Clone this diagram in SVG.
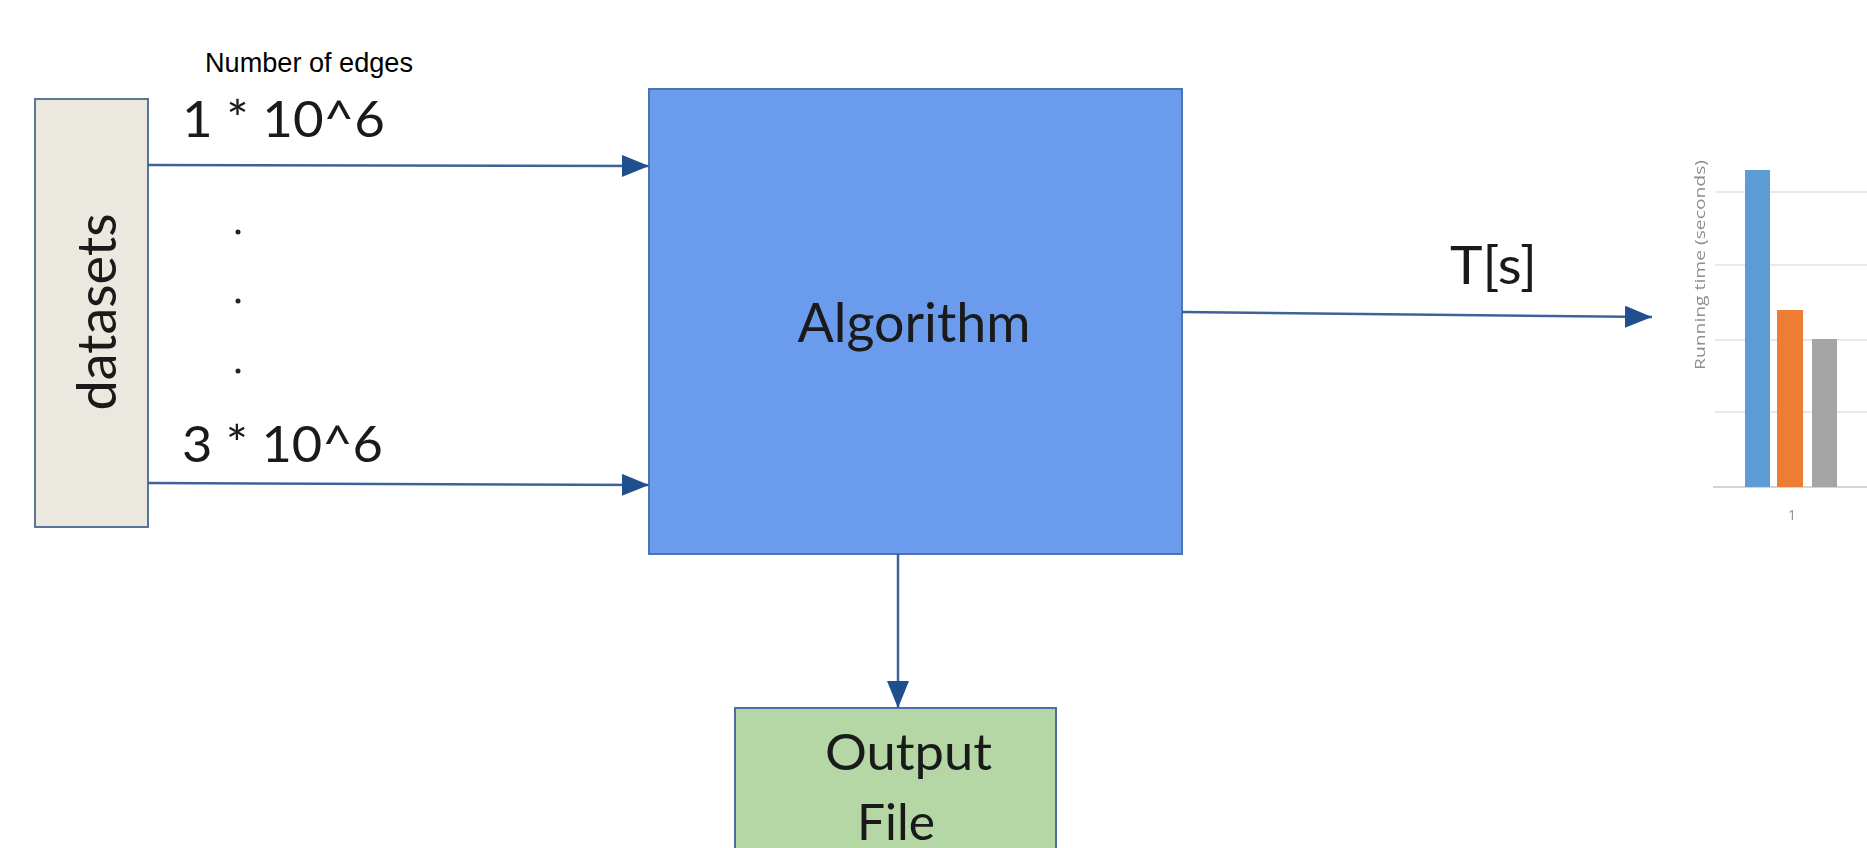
<svg xmlns="http://www.w3.org/2000/svg" width="1867" height="848" viewBox="0 0 1867 848">
  <defs>
    <style>
      .lbl { font-family: Lato, "Open Sans", "Liberation Sans", sans-serif; fill: #1a1a1a; }
      .note { font-family: "Liberation Sans", Arial, sans-serif; fill: #000; }
      .conn { stroke: #3d6299; stroke-width: 2.5; fill: none; }
      .grid { stroke: #e2e2e2; stroke-width: 1.5; }
      .axis { font-family: "Open Sans", "Liberation Sans", sans-serif; fill: #8e8e8e; }
    </style>
    <marker id="head" markerUnits="userSpaceOnUse" markerWidth="28" markerHeight="24" refX="27" refY="11" orient="auto">
      <path d="M0,0 L27,11 L0,22 Z" fill="#1f4f8e"/>
    </marker>
    <filter id="soft" x="-5%" y="-5%" width="110%" height="110%">
      <feGaussianBlur stdDeviation="0.7"/>
    </filter>
  </defs>

  <rect x="0" y="0" width="1867" height="848" fill="#ffffff"/>

  <!-- caption above the input arrows -->
  <text class="note" x="205" y="72" font-size="28" textLength="208" lengthAdjust="spacingAndGlyphs">Number of edges</text>

  <!-- input datasets -->
  <g id="datasets">
    <rect x="35" y="99" width="113" height="428" fill="#ebe8df" stroke="#5b7599" stroke-width="2"/>
    <text class="lbl" transform="translate(116,312) rotate(-90)" text-anchor="middle" font-size="54" textLength="197" lengthAdjust="spacingAndGlyphs">datasets</text>
  </g>

  <!-- algorithm under test -->
  <g id="algorithm">
    <rect x="649" y="89" width="533" height="465" fill="#6a9bec" stroke="#4d74b2" stroke-width="2"/>
    <text class="lbl" x="914" y="342" text-anchor="middle" font-size="54" textLength="233" lengthAdjust="spacingAndGlyphs">Algorithm</text>
  </g>

  <!-- output file -->
  <g id="output-file">
    <rect x="735" y="708" width="321" height="160" fill="#b5d7a6" stroke="#4d6f9f" stroke-width="2"/>
    <text class="lbl" x="825" y="770" font-size="51" textLength="167" lengthAdjust="spacingAndGlyphs">Output</text>
    <text class="lbl" x="857" y="840" font-size="51" textLength="78" lengthAdjust="spacingAndGlyphs">File</text>
  </g>

  <!-- running time chart -->
  <g id="chart" filter="url(#soft)">
    <line class="grid" x1="1715" y1="192" x2="1867" y2="192"/>
    <line class="grid" x1="1715" y1="265" x2="1867" y2="265"/>
    <line class="grid" x1="1715" y1="340" x2="1867" y2="340"/>
    <line class="grid" x1="1715" y1="412" x2="1867" y2="412"/>
    <line x1="1713" y1="487" x2="1867" y2="487" stroke="#d4d4d4" stroke-width="2"/>
    <rect x="1745" y="170" width="25" height="317" fill="#5b9bd5"/>
    <rect x="1777" y="310" width="26" height="177" fill="#ed7d31"/>
    <rect x="1812" y="339" width="25" height="148" fill="#a5a5a5"/>
    <text class="axis" transform="translate(1705,265) rotate(-90)" text-anchor="middle" font-size="15" textLength="210" lengthAdjust="spacingAndGlyphs">Running time (seconds)</text>
    <text class="axis" x="1792" y="520" text-anchor="middle" font-size="14">1</text>
  </g>

  <!-- connectors -->
  <g id="connectors">
    <line class="conn" x1="148" y1="165" x2="649" y2="166" marker-end="url(#head)"/>
    <line class="conn" x1="148" y1="483" x2="649" y2="485" marker-end="url(#head)"/>
    <line class="conn" x1="1182" y1="312" x2="1652" y2="317" marker-end="url(#head)"/>
    <line class="conn" x1="898" y1="554" x2="898" y2="708" marker-end="url(#head)"/>
  </g>

  <!-- connector labels -->
  <g id="edge-labels">
    <text class="lbl" x="182" y="137" font-size="50" textLength="203" lengthAdjust="spacingAndGlyphs">1 * 10^6</text>
    <circle cx="238" cy="232" r="2.5" fill="#222"/>
    <circle cx="238" cy="301" r="2.5" fill="#222"/>
    <circle cx="238" cy="371" r="2.5" fill="#222"/>
    <text class="lbl" x="182" y="462" font-size="50" textLength="201" lengthAdjust="spacingAndGlyphs">3 * 10^6</text>
    <text class="lbl" x="1450" y="284" font-size="52" textLength="87" lengthAdjust="spacingAndGlyphs">T[s]</text>
  </g>
</svg>
